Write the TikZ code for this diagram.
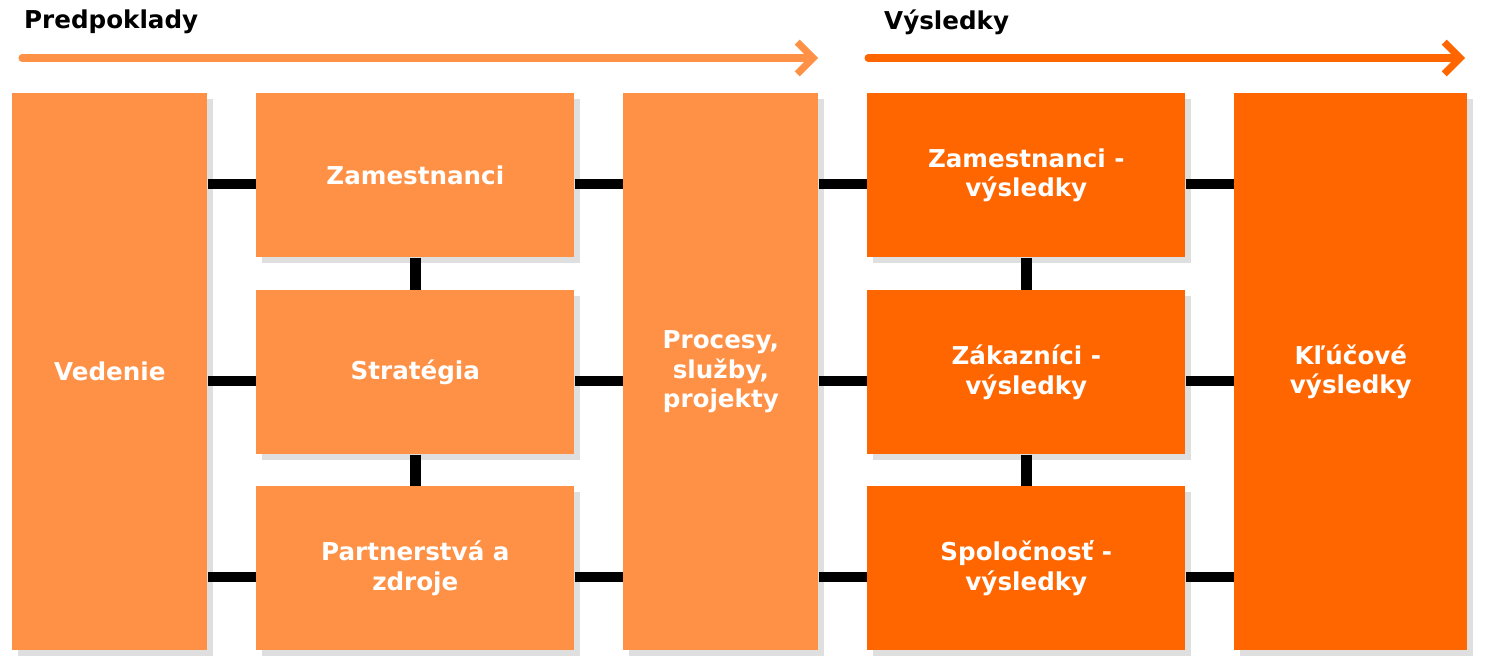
\documentclass[tikz,border=0pt]{standalone}
\usepackage{fontspec}
\setmainfont{DejaVu Sans}
\usetikzlibrary{arrows.meta,positioning,shadows}
\definecolor{light}{HTML}{FF9147}
\definecolor{dark}{HTML}{FF6600}

\begin{document}
\begin{tikzpicture}[x=0.02cm,y=-0.02cm,
	box/.style={anchor=north west,inner sep=0pt,align=center,text=white,
		font=\fontsize{14}{17}\selectfont\bfseries,
		drop shadow={shadow xshift=3pt,shadow yshift=-3pt,opacity=0.25}},
	small/.style={box,minimum width=6.36cm,minimum height=3.28cm},
	tall/.style={box,minimum height=11.14cm},
	link/.style={line width=6pt,black},
	flow/.style={line width=4pt,line cap=round,-{Straight Barb[length=9pt,width=18pt,line width=4pt]}},
	head/.style={anchor=west,font=\fontsize{14}{17}\selectfont\bfseries}]

	\useasboundingbox (0,0) rectangle (1486,670);

	%arrows on top
	\node[head] (pred) at (18,22) {Predpoklady};
	\node[head] (vys) at (878,22) {Výsledky};
	\coordinate (p1) at (22,58); \coordinate (p2) at (818,58);
	\coordinate (v1) at (868,58); \coordinate (v2) at (1465,58);
	\draw[flow,light] (p1) -- (p2);
	\draw[flow,dark] (v1) -- (v2);

	%boxes
	\node[tall,fill=light,minimum width=3.9cm] (ved) at (12,93) {Vedenie};
	\node[small,fill=light] (zam) at (256,93) {Zamestnanci};
	\node[small,fill=light] (str) at (256,290) {Stratégia};
	\node[small,fill=light] (par) at (256,486) {Partnerstvá a\\zdroje};
	\node[tall,fill=light,minimum width=3.9cm] (pro) at (623,93) {Procesy,\\služby,\\projekty};
	\node[small,fill=dark] (zamv) at (867,93) {Zamestnanci -\\výsledky};
	\node[small,fill=dark] (zakv) at (867,290) {Zákazníci -\\výsledky};
	\node[small,fill=dark] (spov) at (867,486) {Spoločnosť -\\výsledky};
	\node[tall,fill=dark,minimum width=4.66cm] (klu) at (1234,93) {Kľúčové\\výsledky};

	%links
	\foreach \a/\b in {zam/zamv,str/zakv,par/spov}{
		\draw[link] ([yshift=-0.17cm]\a.west) -- ([yshift=-0.17cm]\a.west -| ved.east);
		\draw[link] ([yshift=-0.17cm]\a.east) -- ([yshift=-0.17cm]\a.east -| pro.west);
		\draw[link] ([yshift=-0.17cm]\b.west) -- ([yshift=-0.17cm]\b.west -| pro.east);
		\draw[link] ([yshift=-0.17cm]\b.east) -- ([yshift=-0.17cm]\b.east -| klu.west);
	}
	\draw[link] (zam) -- (str);
	\draw[link] (str) -- (par);
	\draw[link] (zamv) -- (zakv);
	\draw[link] (zakv) -- (spov);

\end{tikzpicture}
\end{document}
